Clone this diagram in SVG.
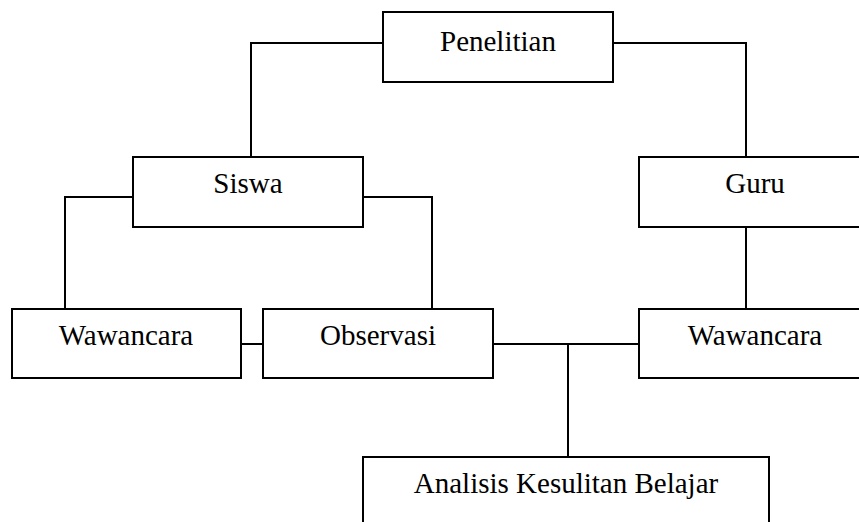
<svg xmlns="http://www.w3.org/2000/svg" width="859" height="522" viewBox="0 0 859 522">
<style>
.box{fill:#fff;stroke:#000;stroke-width:2}
.ln{fill:none;stroke:#000;stroke-width:2}
.t{font-family:"Liberation Serif","Times New Roman",serif;font-size:29px;fill:#000;text-anchor:middle}
</style>
<rect width="859" height="522" fill="#fff"/>
<g id="connectors">
<polyline class="ln" points="383,43 251,43 251,157"/>
<polyline class="ln" points="613,43 746,43 746,157"/>
<polyline class="ln" points="133,197 65,197 65,309"/>
<polyline class="ln" points="363,197 432,197 432,309"/>
<line class="ln" x1="746" y1="227" x2="746" y2="309"/>
<line class="ln" x1="241" y1="344" x2="263" y2="344"/>
<line class="ln" x1="493" y1="344" x2="639" y2="344"/>
<line class="ln" x1="568" y1="344" x2="568" y2="457"/>
</g>
<g id="penelitian"><rect class="box" x="383" y="12" width="230" height="70"/><text class="t" x="498" y="51">Penelitian</text></g>
<g id="siswa"><rect class="box" x="133" y="157" width="230" height="70"/><text class="t" x="248" y="193">Siswa</text></g>
<g id="guru"><rect class="box" x="639" y="157" width="232" height="70"/><text class="t" x="755" y="193">Guru</text></g>
<g id="wawancara1"><rect class="box" x="12" y="309" width="229" height="69"/><text class="t" x="126" y="345">Wawancara</text></g>
<g id="observasi"><rect class="box" x="263" y="309" width="230" height="69"/><text class="t" x="378" y="345">Observasi</text></g>
<g id="wawancara2"><rect class="box" x="639" y="309" width="232" height="69"/><text class="t" x="755" y="345">Wawancara</text></g>
<g id="analisis"><rect class="box" x="363" y="457" width="406" height="80"/><text class="t" x="566" y="493">Analisis Kesulitan Belajar</text></g>
</svg>
